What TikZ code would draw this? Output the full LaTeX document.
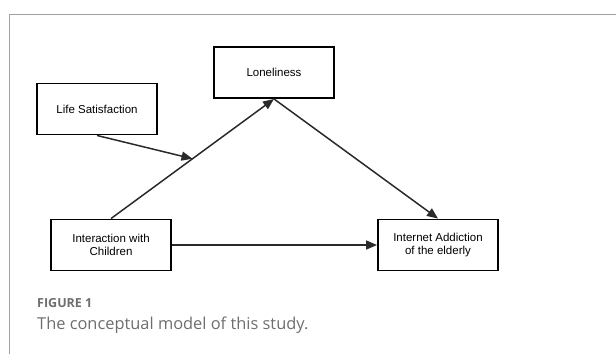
\documentclass[tikz,border=0pt]{standalone}
\usepackage{fontspec}
\setmainfont{Liberation Sans}
\newfontfamily\capfont{Open Sans}
\usetikzlibrary{arrows.meta}
\definecolor{framegray}{HTML}{A0A0A0}
\definecolor{capgray}{HTML}{6E6E6E}
\definecolor{linedark}{HTML}{2A2A2A}
\begin{document}
\begin{tikzpicture}[x=1pt,y=-1pt,
  box/.style={draw=black,line width=1.9pt,minimum width=120pt,minimum height=51pt,inner sep=0pt,align=center,font=\fontsize{11.5}{13.5}\selectfont},
  conn/.style={draw=linedark,line width=1.5pt,-{Triangle[length=11pt,width=9pt]}}]
\useasboundingbox (0,0) rectangle (616,354);
\draw[framegray,line width=0.8pt] (9,354) -- (9,14) -- (616,14);
\node[box] (lone) at (274,72.5) {Loneliness};
\node[box] (life) at (97,109) {Life Satisfaction};
\node[box] (inter) at (111,245) {Interaction with\\Children};
\node[box] (net) at (438,245) {Internet Addiction\\of the elderly};
\draw[conn] (inter.north) -- (lone.south) coordinate[pos=0.5] (mid);
\draw[conn] (lone.south) -- (net.north);
\draw[conn] (life.south) -- (mid);
\draw[conn] (inter.east) -- (net.west);
\node[anchor=base west,inner sep=0pt,text=capgray,font=\capfont\bfseries\fontsize{12.5}{14}\selectfont] (fig) at (37,307) {FIGURE 1};
\node[anchor=base west,inner sep=0pt,text=capgray,font=\capfont\fontsize{16.4}{19}\selectfont] (cap) at (37,329) {The conceptual model of this study.};
\end{tikzpicture}
\end{document}
